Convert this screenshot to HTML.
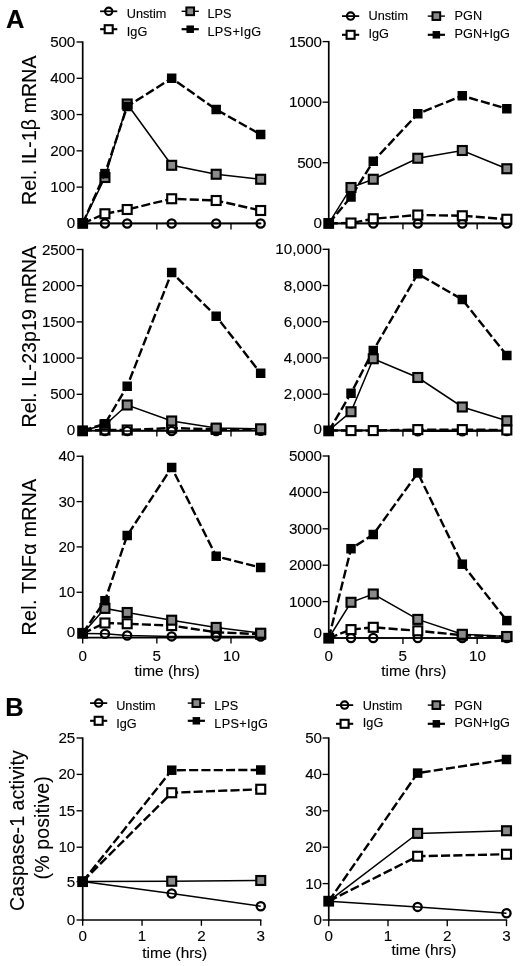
<!DOCTYPE html>
<html lang="en">
<head>
<meta charset="utf-8">
<title>Figure</title>
<style>
html{margin:0;padding:0;background:#fff;}
body{margin:0;padding:0;background:transparent;}
body{width:520px;height:966px;overflow:hidden;}
svg{display:block;will-change:transform;filter:grayscale(1);}
</style>
</head>
<body>
<svg width="520" height="966" viewBox="0 0 520 966" font-family='"Liberation Sans", Arial, Helvetica, sans-serif' fill="#000">
<style>text{stroke:#000;stroke-width:0.12px;}</style>
<rect width="520" height="966" fill="#fff"/>
<text x="6" y="27.9" font-size="25.5" text-anchor="start" font-weight="bold">A</text>
<text x="5.3" y="716" font-size="25.5" text-anchor="start" font-weight="bold">B</text>
<line x1="100.1" y1="11.3" x2="117.3" y2="11.3" stroke="#000" stroke-width="1.75"/><circle cx="108.7" cy="11.3" r="3.7" fill="none" stroke="#000" stroke-width="2.1"/><text x="126.8" y="17.8" font-size="12.7" text-anchor="start">Unstim</text><line x1="100.1" y1="29.2" x2="117.3" y2="29.2" stroke="#000" stroke-width="2.1"/><rect x="104.7" y="25.2" width="8" height="8" fill="#fff" stroke="#000" stroke-width="2.1"/><text x="126.8" y="35.8" font-size="12.7" text-anchor="start">IgG</text><line x1="181.6" y1="11.3" x2="198.8" y2="11.3" stroke="#000" stroke-width="1.4"/><rect x="186.35" y="7.45" width="7.7" height="7.7" fill="#8a8a8a" stroke="#000" stroke-width="2"/><text x="207.5" y="17.8" font-size="12.7" text-anchor="start">LPS</text><line x1="181.6" y1="29.2" x2="198.8" y2="29.2" stroke="#000" stroke-width="2.2"/><rect x="186.45" y="25.45" width="7.5" height="7.5" fill="#000"/><text x="207.5" y="35.8" font-size="12.7" text-anchor="start" letter-spacing="0.3">LPS+IgG</text>
<line x1="342" y1="16.1" x2="359.2" y2="16.1" stroke="#000" stroke-width="1.75"/><circle cx="350.6" cy="16.1" r="3.7" fill="none" stroke="#000" stroke-width="2.1"/><text x="368.5" y="20.1" font-size="12.7" text-anchor="start">Unstim</text><line x1="342" y1="34.8" x2="359.2" y2="34.8" stroke="#000" stroke-width="2.1"/><rect x="346.6" y="30.8" width="8" height="8" fill="#fff" stroke="#000" stroke-width="2.1"/><text x="368.5" y="37.8" font-size="12.7" text-anchor="start">IgG</text><line x1="427.75" y1="16.1" x2="444.95" y2="16.1" stroke="#000" stroke-width="1.4"/><rect x="432.5" y="12.25" width="7.7" height="7.7" fill="#8a8a8a" stroke="#000" stroke-width="2"/><text x="454.6" y="20.1" font-size="12.7" text-anchor="start">PGN</text><line x1="427.75" y1="34.8" x2="444.95" y2="34.8" stroke="#000" stroke-width="2.2"/><rect x="432.6" y="31.05" width="7.5" height="7.5" fill="#000"/><text x="454.6" y="37.8" font-size="12.7" text-anchor="start">PGN+IgG</text>
<line x1="90.05" y1="703.1" x2="107.25" y2="703.1" stroke="#000" stroke-width="1.75"/><circle cx="98.65" cy="703.1" r="3.7" fill="none" stroke="#000" stroke-width="2.1"/><text x="116.2" y="709.6" font-size="12.7" text-anchor="start">Unstim</text><line x1="90.05" y1="720.8" x2="107.25" y2="720.8" stroke="#000" stroke-width="2.1"/><rect x="94.65" y="716.8" width="8" height="8" fill="#fff" stroke="#000" stroke-width="2.1"/><text x="116.2" y="727.6" font-size="12.7" text-anchor="start">IgG</text><line x1="187.75" y1="703.1" x2="204.95" y2="703.1" stroke="#000" stroke-width="1.4"/><rect x="192.5" y="699.25" width="7.7" height="7.7" fill="#8a8a8a" stroke="#000" stroke-width="2"/><text x="214.3" y="709.6" font-size="12.7" text-anchor="start">LPS</text><line x1="187.75" y1="720.8" x2="204.95" y2="720.8" stroke="#000" stroke-width="2.2"/><rect x="192.6" y="717.05" width="7.5" height="7.5" fill="#000"/><text x="214.3" y="727.6" font-size="12.7" text-anchor="start" letter-spacing="0.3">LPS+IgG</text>
<line x1="336" y1="705.1" x2="353.2" y2="705.1" stroke="#000" stroke-width="1.75"/><circle cx="344.6" cy="705.1" r="3.7" fill="none" stroke="#000" stroke-width="2.1"/><text x="362.8" y="709.8" font-size="12.7" text-anchor="start">Unstim</text><line x1="336" y1="723.8" x2="353.2" y2="723.8" stroke="#000" stroke-width="2.1"/><rect x="340.6" y="719.8" width="8" height="8" fill="#fff" stroke="#000" stroke-width="2.1"/><text x="362.8" y="727.4" font-size="12.7" text-anchor="start">IgG</text><line x1="427.75" y1="705.1" x2="444.95" y2="705.1" stroke="#000" stroke-width="1.4"/><rect x="432.5" y="701.25" width="7.7" height="7.7" fill="#8a8a8a" stroke="#000" stroke-width="2"/><text x="454.6" y="709.8" font-size="12.7" text-anchor="start">PGN</text><line x1="427.75" y1="723.8" x2="444.95" y2="723.8" stroke="#000" stroke-width="2.2"/><rect x="432.6" y="720.05" width="7.5" height="7.5" fill="#000"/><text x="454.6" y="727.4" font-size="12.7" text-anchor="start">PGN+IgG</text>
<text transform="translate(36 130.2) rotate(-90)" font-size="19.5" text-anchor="middle" textLength="149.4" lengthAdjust="spacing">Rel. IL-1β mRNA</text>
<text transform="translate(36 336.7) rotate(-90)" font-size="19.5" text-anchor="middle" textLength="181.6" lengthAdjust="spacing">Rel. IL-23p19 mRNA</text>
<text transform="translate(36 557.15) rotate(-90)" font-size="19.5" text-anchor="middle" textLength="156.7" lengthAdjust="spacing">Rel. TNFα mRNA</text>
<text transform="translate(23.6 830.6) rotate(-90)" font-size="19.5" text-anchor="middle" textLength="160.6" lengthAdjust="spacing">Caspase-1 activity</text>
<text transform="translate(48.6 827.8) rotate(-90)" font-size="19.5" text-anchor="middle" textLength="103.2" lengthAdjust="spacing">(% positive)</text>
<line x1="82.7" y1="41.33" x2="82.7" y2="224.25" stroke="#000" stroke-width="1.7"/><line x1="81.85" y1="223.4" x2="261.34" y2="223.4" stroke="#000" stroke-width="1.7"/><line x1="76.55" y1="42" x2="82.7" y2="42" stroke="#000" stroke-width="1.35"/><text x="74.85" y="47" font-size="15.2" text-anchor="end" letter-spacing="-0.25">500</text><line x1="76.55" y1="78.28" x2="82.7" y2="78.28" stroke="#000" stroke-width="1.35"/><text x="74.85" y="83.28" font-size="15.2" text-anchor="end" letter-spacing="-0.25">400</text><line x1="76.55" y1="114.56" x2="82.7" y2="114.56" stroke="#000" stroke-width="1.35"/><text x="74.85" y="119.56" font-size="15.2" text-anchor="end" letter-spacing="-0.25">300</text><line x1="76.55" y1="150.84" x2="82.7" y2="150.84" stroke="#000" stroke-width="1.35"/><text x="74.85" y="155.84" font-size="15.2" text-anchor="end" letter-spacing="-0.25">200</text><line x1="76.55" y1="187.12" x2="82.7" y2="187.12" stroke="#000" stroke-width="1.35"/><text x="74.85" y="192.12" font-size="15.2" text-anchor="end" letter-spacing="-0.25">100</text><text x="74.85" y="228.4" font-size="15.2" text-anchor="end" letter-spacing="-0.25">0</text><line x1="156.85" y1="223.4" x2="156.85" y2="229.4" stroke="#000" stroke-width="1.35"/><line x1="231" y1="223.4" x2="231" y2="229.4" stroke="#000" stroke-width="1.35"/><polyline points="82.7,223.4 104.95,213.75 127.19,209.5 171.68,198.75 216.17,200.5 260.66,210.5" fill="none" stroke="#000" stroke-width="2.4" stroke-dasharray="9.1 3.2"/><rect x="100.47" y="209.28" width="8.95" height="8.95" fill="#fff" stroke="#000" stroke-width="2.15"/><rect x="122.72" y="205.03" width="8.95" height="8.95" fill="#fff" stroke="#000" stroke-width="2.15"/><rect x="167.21" y="194.28" width="8.95" height="8.95" fill="#fff" stroke="#000" stroke-width="2.15"/><rect x="211.7" y="196.03" width="8.95" height="8.95" fill="#fff" stroke="#000" stroke-width="2.15"/><rect x="256.19" y="206.03" width="8.95" height="8.95" fill="#fff" stroke="#000" stroke-width="2.15"/><polyline points="82.7,223.5 104.95,223.5 127.19,223.5 171.68,223.5 216.17,223.5 260.66,223.5" fill="none" stroke="#000" stroke-width="1.5"/><circle cx="104.95" cy="223.5" r="4.1" fill="none" stroke="#000" stroke-width="2.3"/><circle cx="127.19" cy="223.5" r="4.1" fill="none" stroke="#000" stroke-width="2.3"/><circle cx="171.68" cy="223.5" r="4.1" fill="none" stroke="#000" stroke-width="2.3"/><circle cx="216.17" cy="223.5" r="4.1" fill="none" stroke="#000" stroke-width="2.3"/><circle cx="260.66" cy="223.5" r="4.1" fill="none" stroke="#000" stroke-width="2.3"/><polyline points="82.7,223.4 104.95,177.5 127.19,104 171.68,165.3 216.17,174.25 260.66,179.25" fill="none" stroke="#000" stroke-width="1.5"/><rect x="100.47" y="173.03" width="8.95" height="8.95" fill="#8a8a8a" stroke="#000" stroke-width="2.15"/><rect x="122.72" y="99.53" width="8.95" height="8.95" fill="#8a8a8a" stroke="#000" stroke-width="2.15"/><rect x="167.21" y="160.83" width="8.95" height="8.95" fill="#8a8a8a" stroke="#000" stroke-width="2.15"/><rect x="211.7" y="169.78" width="8.95" height="8.95" fill="#8a8a8a" stroke="#000" stroke-width="2.15"/><rect x="256.19" y="174.78" width="8.95" height="8.95" fill="#8a8a8a" stroke="#000" stroke-width="2.15"/><polyline points="82.7,223.4 104.95,173.6 127.19,106.5 171.68,78.25 216.17,109.5 260.66,134.5" fill="none" stroke="#000" stroke-width="2.4" stroke-dasharray="9.1 3.2"/><rect x="77.95" y="218.65" width="9.5" height="9.5" fill="#000"/><rect x="100.2" y="168.85" width="9.5" height="9.5" fill="#000"/><rect x="122.44" y="101.75" width="9.5" height="9.5" fill="#000"/><rect x="166.93" y="73.5" width="9.5" height="9.5" fill="#000"/><rect x="211.42" y="104.75" width="9.5" height="9.5" fill="#000"/><rect x="255.91" y="129.75" width="9.5" height="9.5" fill="#000"/><rect x="77.3" y="218" width="10.8" height="10.8" fill="#000"/>
<line x1="328.75" y1="40.93" x2="328.75" y2="224.15" stroke="#000" stroke-width="1.7"/><line x1="327.9" y1="223.3" x2="507.5" y2="223.3" stroke="#000" stroke-width="1.7"/><line x1="322.6" y1="41.6" x2="328.75" y2="41.6" stroke="#000" stroke-width="1.35"/><text x="321.75" y="46.6" font-size="15.2" text-anchor="end" letter-spacing="-0.25">1500</text><line x1="322.6" y1="102.17" x2="328.75" y2="102.17" stroke="#000" stroke-width="1.35"/><text x="321.75" y="107.17" font-size="15.2" text-anchor="end" letter-spacing="-0.25">1000</text><line x1="322.6" y1="162.73" x2="328.75" y2="162.73" stroke="#000" stroke-width="1.35"/><text x="321.75" y="167.73" font-size="15.2" text-anchor="end" letter-spacing="-0.25">500</text><text x="321.75" y="228.3" font-size="15.2" text-anchor="end" letter-spacing="-0.25">0</text><line x1="402.95" y1="223.3" x2="402.95" y2="229.3" stroke="#000" stroke-width="1.35"/><line x1="477.15" y1="223.3" x2="477.15" y2="229.3" stroke="#000" stroke-width="1.35"/><polyline points="328.75,223.6 351.01,223.6 373.27,223.6 417.79,223.6 462.31,223.6 506.83,223.6" fill="none" stroke="#000" stroke-width="1.5"/><circle cx="351.01" cy="223.6" r="4.1" fill="none" stroke="#000" stroke-width="2.3"/><circle cx="373.27" cy="223.6" r="4.1" fill="none" stroke="#000" stroke-width="2.3"/><circle cx="417.79" cy="223.6" r="4.1" fill="none" stroke="#000" stroke-width="2.3"/><circle cx="462.31" cy="223.6" r="4.1" fill="none" stroke="#000" stroke-width="2.3"/><circle cx="506.83" cy="223.6" r="4.1" fill="none" stroke="#000" stroke-width="2.3"/><polyline points="328.75,223.3 351.01,197 373.27,161.25 417.79,113.75 462.31,95.75 506.83,108.75" fill="none" stroke="#000" stroke-width="2.4" stroke-dasharray="9.1 3.2"/><rect x="324" y="218.55" width="9.5" height="9.5" fill="#000"/><rect x="346.26" y="192.25" width="9.5" height="9.5" fill="#000"/><rect x="368.52" y="156.5" width="9.5" height="9.5" fill="#000"/><rect x="413.04" y="109" width="9.5" height="9.5" fill="#000"/><rect x="457.56" y="91" width="9.5" height="9.5" fill="#000"/><rect x="502.08" y="104" width="9.5" height="9.5" fill="#000"/><polyline points="328.75,223.3 351.01,187.5 373.27,179.25 417.79,158.25 462.31,150.5 506.83,168.75" fill="none" stroke="#000" stroke-width="1.5"/><rect x="346.53" y="183.03" width="8.95" height="8.95" fill="#8a8a8a" stroke="#000" stroke-width="2.15"/><rect x="368.79" y="174.78" width="8.95" height="8.95" fill="#8a8a8a" stroke="#000" stroke-width="2.15"/><rect x="413.31" y="153.78" width="8.95" height="8.95" fill="#8a8a8a" stroke="#000" stroke-width="2.15"/><rect x="457.83" y="146.03" width="8.95" height="8.95" fill="#8a8a8a" stroke="#000" stroke-width="2.15"/><rect x="502.35" y="164.28" width="8.95" height="8.95" fill="#8a8a8a" stroke="#000" stroke-width="2.15"/><polyline points="328.75,223.3 351.01,223 373.27,218.75 417.79,215 462.31,215.75 506.83,219.25" fill="none" stroke="#000" stroke-width="2.4" stroke-dasharray="9.1 3.2"/><rect x="346.53" y="218.53" width="8.95" height="8.95" fill="#fff" stroke="#000" stroke-width="2.15"/><rect x="368.79" y="214.28" width="8.95" height="8.95" fill="#fff" stroke="#000" stroke-width="2.15"/><rect x="413.31" y="210.53" width="8.95" height="8.95" fill="#fff" stroke="#000" stroke-width="2.15"/><rect x="457.83" y="211.28" width="8.95" height="8.95" fill="#fff" stroke="#000" stroke-width="2.15"/><rect x="502.35" y="214.78" width="8.95" height="8.95" fill="#fff" stroke="#000" stroke-width="2.15"/><rect x="323.3" y="218.05" width="10.8" height="10.8" fill="#000"/>
<line x1="82.7" y1="248.82" x2="82.7" y2="431.35" stroke="#000" stroke-width="1.7"/><line x1="81.85" y1="430.5" x2="261.34" y2="430.5" stroke="#000" stroke-width="1.7"/><line x1="76.55" y1="249.5" x2="82.7" y2="249.5" stroke="#000" stroke-width="1.35"/><text x="74.85" y="254.5" font-size="15.2" text-anchor="end" letter-spacing="-0.25">2500</text><line x1="76.55" y1="285.7" x2="82.7" y2="285.7" stroke="#000" stroke-width="1.35"/><text x="74.85" y="290.7" font-size="15.2" text-anchor="end" letter-spacing="-0.25">2000</text><line x1="76.55" y1="321.9" x2="82.7" y2="321.9" stroke="#000" stroke-width="1.35"/><text x="74.85" y="326.9" font-size="15.2" text-anchor="end" letter-spacing="-0.25">1500</text><line x1="76.55" y1="358.1" x2="82.7" y2="358.1" stroke="#000" stroke-width="1.35"/><text x="74.85" y="363.1" font-size="15.2" text-anchor="end" letter-spacing="-0.25">1000</text><line x1="76.55" y1="394.3" x2="82.7" y2="394.3" stroke="#000" stroke-width="1.35"/><text x="74.85" y="399.3" font-size="15.2" text-anchor="end" letter-spacing="-0.25">500</text><text x="74.85" y="434.5" font-size="15.2" text-anchor="end" letter-spacing="-0.25">0</text><line x1="156.85" y1="430.5" x2="156.85" y2="436.5" stroke="#000" stroke-width="1.35"/><line x1="231" y1="430.5" x2="231" y2="436.5" stroke="#000" stroke-width="1.35"/><polyline points="82.7,430.5 104.95,430 127.19,430 171.68,428 216.17,429.4 260.66,429.8" fill="none" stroke="#000" stroke-width="2.4" stroke-dasharray="9.1 3.2"/><rect x="100.47" y="425.52" width="8.95" height="8.95" fill="#fff" stroke="#000" stroke-width="2.15"/><rect x="122.72" y="425.52" width="8.95" height="8.95" fill="#fff" stroke="#000" stroke-width="2.15"/><rect x="167.21" y="423.52" width="8.95" height="8.95" fill="#fff" stroke="#000" stroke-width="2.15"/><rect x="211.7" y="424.92" width="8.95" height="8.95" fill="#fff" stroke="#000" stroke-width="2.15"/><rect x="256.19" y="425.32" width="8.95" height="8.95" fill="#fff" stroke="#000" stroke-width="2.15"/><polyline points="82.7,430.5 104.95,431 127.19,431 171.68,431 216.17,431.1 260.66,430.8" fill="none" stroke="#000" stroke-width="1.5"/><circle cx="104.95" cy="431" r="4.1" fill="none" stroke="#000" stroke-width="2.3"/><circle cx="127.19" cy="431" r="4.1" fill="none" stroke="#000" stroke-width="2.3"/><circle cx="171.68" cy="431" r="4.1" fill="none" stroke="#000" stroke-width="2.3"/><circle cx="216.17" cy="431.1" r="4.1" fill="none" stroke="#000" stroke-width="2.3"/><circle cx="260.66" cy="430.8" r="4.1" fill="none" stroke="#000" stroke-width="2.3"/><polyline points="82.7,430.5 104.95,425 127.19,405 171.68,421 216.17,428.1 260.66,428.8" fill="none" stroke="#000" stroke-width="1.5"/><rect x="100.47" y="420.52" width="8.95" height="8.95" fill="#8a8a8a" stroke="#000" stroke-width="2.15"/><rect x="122.72" y="400.52" width="8.95" height="8.95" fill="#8a8a8a" stroke="#000" stroke-width="2.15"/><rect x="167.21" y="416.52" width="8.95" height="8.95" fill="#8a8a8a" stroke="#000" stroke-width="2.15"/><rect x="211.7" y="423.62" width="8.95" height="8.95" fill="#8a8a8a" stroke="#000" stroke-width="2.15"/><rect x="256.19" y="424.32" width="8.95" height="8.95" fill="#8a8a8a" stroke="#000" stroke-width="2.15"/><polyline points="82.7,430.5 104.95,423.75 127.19,386.25 171.68,272.5 216.17,316.25 260.66,373.25" fill="none" stroke="#000" stroke-width="2.4" stroke-dasharray="9.1 3.2"/><rect x="77.95" y="425.75" width="9.5" height="9.5" fill="#000"/><rect x="100.2" y="419" width="9.5" height="9.5" fill="#000"/><rect x="122.44" y="381.5" width="9.5" height="9.5" fill="#000"/><rect x="166.93" y="267.75" width="9.5" height="9.5" fill="#000"/><rect x="211.42" y="311.5" width="9.5" height="9.5" fill="#000"/><rect x="255.91" y="368.5" width="9.5" height="9.5" fill="#000"/><rect x="77.2" y="425.5" width="10.8" height="10.8" fill="#000"/>
<line x1="328.75" y1="248.62" x2="328.75" y2="431.25" stroke="#000" stroke-width="1.7"/><line x1="327.9" y1="430.4" x2="507.5" y2="430.4" stroke="#000" stroke-width="1.7"/><line x1="322.6" y1="249.3" x2="328.75" y2="249.3" stroke="#000" stroke-width="1.35"/><text x="322.08" y="254.3" font-size="15.2" text-anchor="end" letter-spacing="0.08">10,000</text><line x1="322.6" y1="285.52" x2="328.75" y2="285.52" stroke="#000" stroke-width="1.35"/><text x="322.08" y="290.52" font-size="15.2" text-anchor="end" letter-spacing="0.08">8,000</text><line x1="322.6" y1="321.74" x2="328.75" y2="321.74" stroke="#000" stroke-width="1.35"/><text x="322.08" y="326.74" font-size="15.2" text-anchor="end" letter-spacing="0.08">6,000</text><line x1="322.6" y1="357.96" x2="328.75" y2="357.96" stroke="#000" stroke-width="1.35"/><text x="322.08" y="362.96" font-size="15.2" text-anchor="end" letter-spacing="0.08">4,000</text><line x1="322.6" y1="394.18" x2="328.75" y2="394.18" stroke="#000" stroke-width="1.35"/><text x="322.08" y="399.18" font-size="15.2" text-anchor="end" letter-spacing="0.08">2,000</text><text x="321.75" y="433.9" font-size="15.2" text-anchor="end" letter-spacing="-0.25">0</text><line x1="402.95" y1="430.4" x2="402.95" y2="436.4" stroke="#000" stroke-width="1.35"/><line x1="477.15" y1="430.4" x2="477.15" y2="436.4" stroke="#000" stroke-width="1.35"/><polyline points="328.75,430.6 351.01,430.6 373.27,430.6 417.79,431.2 462.31,431.2 506.83,431" fill="none" stroke="#000" stroke-width="1.5"/><circle cx="351.01" cy="430.6" r="4.1" fill="none" stroke="#000" stroke-width="2.3"/><circle cx="373.27" cy="430.6" r="4.1" fill="none" stroke="#000" stroke-width="2.3"/><circle cx="417.79" cy="431.2" r="4.1" fill="none" stroke="#000" stroke-width="2.3"/><circle cx="462.31" cy="431.2" r="4.1" fill="none" stroke="#000" stroke-width="2.3"/><circle cx="506.83" cy="431" r="4.1" fill="none" stroke="#000" stroke-width="2.3"/><polyline points="328.75,431 351.01,393.25 373.27,350.5 417.79,273.75 462.31,299.5 506.83,355.5" fill="none" stroke="#000" stroke-width="2.4" stroke-dasharray="9.1 3.2"/><rect x="324" y="426.25" width="9.5" height="9.5" fill="#000"/><rect x="346.26" y="388.5" width="9.5" height="9.5" fill="#000"/><rect x="368.52" y="345.75" width="9.5" height="9.5" fill="#000"/><rect x="413.04" y="269" width="9.5" height="9.5" fill="#000"/><rect x="457.56" y="294.75" width="9.5" height="9.5" fill="#000"/><rect x="502.08" y="350.75" width="9.5" height="9.5" fill="#000"/><polyline points="328.75,430.4 351.01,411.75 373.27,358.75 417.79,377.5 462.31,407 506.83,420.75" fill="none" stroke="#000" stroke-width="1.5"/><rect x="346.53" y="407.27" width="8.95" height="8.95" fill="#8a8a8a" stroke="#000" stroke-width="2.15"/><rect x="368.79" y="354.27" width="8.95" height="8.95" fill="#8a8a8a" stroke="#000" stroke-width="2.15"/><rect x="413.31" y="373.02" width="8.95" height="8.95" fill="#8a8a8a" stroke="#000" stroke-width="2.15"/><rect x="457.83" y="402.52" width="8.95" height="8.95" fill="#8a8a8a" stroke="#000" stroke-width="2.15"/><rect x="502.35" y="416.27" width="8.95" height="8.95" fill="#8a8a8a" stroke="#000" stroke-width="2.15"/><polyline points="328.75,430.5 351.01,430.6 373.27,430.6 417.79,429.6 462.31,429.6 506.83,430" fill="none" stroke="#000" stroke-width="2.4" stroke-dasharray="9.1 3.2"/><rect x="346.53" y="426.12" width="8.95" height="8.95" fill="#fff" stroke="#000" stroke-width="2.15"/><rect x="368.79" y="426.12" width="8.95" height="8.95" fill="#fff" stroke="#000" stroke-width="2.15"/><rect x="413.31" y="425.12" width="8.95" height="8.95" fill="#fff" stroke="#000" stroke-width="2.15"/><rect x="457.83" y="425.12" width="8.95" height="8.95" fill="#fff" stroke="#000" stroke-width="2.15"/><rect x="502.35" y="425.52" width="8.95" height="8.95" fill="#fff" stroke="#000" stroke-width="2.15"/><rect x="323.25" y="425.5" width="10.8" height="10.8" fill="#000"/>
<line x1="82.7" y1="455.57" x2="82.7" y2="638.45" stroke="#000" stroke-width="1.7"/><line x1="81.85" y1="637.6" x2="261.34" y2="637.6" stroke="#000" stroke-width="1.7"/><line x1="76.55" y1="456.25" x2="82.7" y2="456.25" stroke="#000" stroke-width="1.35"/><text x="74.85" y="461.25" font-size="15.2" text-anchor="end" letter-spacing="-0.25">40</text><line x1="76.55" y1="501.59" x2="82.7" y2="501.59" stroke="#000" stroke-width="1.35"/><text x="74.85" y="506.59" font-size="15.2" text-anchor="end" letter-spacing="-0.25">30</text><line x1="76.55" y1="546.92" x2="82.7" y2="546.92" stroke="#000" stroke-width="1.35"/><text x="74.85" y="551.92" font-size="15.2" text-anchor="end" letter-spacing="-0.25">20</text><line x1="76.55" y1="592.26" x2="82.7" y2="592.26" stroke="#000" stroke-width="1.35"/><text x="74.85" y="597.26" font-size="15.2" text-anchor="end" letter-spacing="-0.25">10</text><text x="74.85" y="637.2" font-size="15.2" text-anchor="end" letter-spacing="-0.25">0</text><line x1="82.7" y1="637.6" x2="82.7" y2="643.6" stroke="#000" stroke-width="1.35"/><line x1="156.85" y1="637.6" x2="156.85" y2="643.6" stroke="#000" stroke-width="1.35"/><line x1="231" y1="637.6" x2="231" y2="643.6" stroke="#000" stroke-width="1.35"/><text x="82.7" y="661.2" font-size="15.2" text-anchor="middle">0</text><text x="156.65" y="661.2" font-size="15.2" text-anchor="middle">5</text><text x="231.4" y="661.2" font-size="15.2" text-anchor="middle">10</text><polyline points="82.7,633.5 104.95,623 127.19,623.75 171.68,625.6 216.17,632.3 260.66,634.2" fill="none" stroke="#000" stroke-width="2.4" stroke-dasharray="9.1 3.2"/><rect x="100.47" y="618.52" width="8.95" height="8.95" fill="#fff" stroke="#000" stroke-width="2.15"/><rect x="122.72" y="619.27" width="8.95" height="8.95" fill="#fff" stroke="#000" stroke-width="2.15"/><rect x="167.21" y="621.12" width="8.95" height="8.95" fill="#fff" stroke="#000" stroke-width="2.15"/><rect x="211.7" y="627.82" width="8.95" height="8.95" fill="#fff" stroke="#000" stroke-width="2.15"/><rect x="256.19" y="629.73" width="8.95" height="8.95" fill="#fff" stroke="#000" stroke-width="2.15"/><polyline points="82.7,633.5 104.95,633.75 127.19,635.5 171.68,636.4 216.17,636.6 260.66,636.6" fill="none" stroke="#000" stroke-width="1.5"/><circle cx="104.95" cy="633.75" r="4.1" fill="none" stroke="#000" stroke-width="2.3"/><circle cx="127.19" cy="635.5" r="4.1" fill="none" stroke="#000" stroke-width="2.3"/><circle cx="171.68" cy="636.4" r="4.1" fill="none" stroke="#000" stroke-width="2.3"/><circle cx="216.17" cy="636.6" r="4.1" fill="none" stroke="#000" stroke-width="2.3"/><circle cx="260.66" cy="636.6" r="4.1" fill="none" stroke="#000" stroke-width="2.3"/><polyline points="82.7,633.5 104.95,608.4 127.19,612.5 171.68,620.2 216.17,627.4 260.66,633.2" fill="none" stroke="#000" stroke-width="1.5"/><rect x="100.47" y="603.92" width="8.95" height="8.95" fill="#8a8a8a" stroke="#000" stroke-width="2.15"/><rect x="122.72" y="608.02" width="8.95" height="8.95" fill="#8a8a8a" stroke="#000" stroke-width="2.15"/><rect x="167.21" y="615.73" width="8.95" height="8.95" fill="#8a8a8a" stroke="#000" stroke-width="2.15"/><rect x="211.7" y="622.92" width="8.95" height="8.95" fill="#8a8a8a" stroke="#000" stroke-width="2.15"/><rect x="256.19" y="628.73" width="8.95" height="8.95" fill="#8a8a8a" stroke="#000" stroke-width="2.15"/><polyline points="82.7,633.3 104.95,600.7 127.19,535.5 171.68,467.5 216.17,556.25 260.66,567.5" fill="none" stroke="#000" stroke-width="2.4" stroke-dasharray="9.1 3.2"/><rect x="77.95" y="628.55" width="9.5" height="9.5" fill="#000"/><rect x="100.2" y="595.95" width="9.5" height="9.5" fill="#000"/><rect x="122.44" y="530.75" width="9.5" height="9.5" fill="#000"/><rect x="166.93" y="462.75" width="9.5" height="9.5" fill="#000"/><rect x="211.42" y="551.5" width="9.5" height="9.5" fill="#000"/><rect x="255.91" y="562.75" width="9.5" height="9.5" fill="#000"/><rect x="77.2" y="627.9" width="10.8" height="10.8" fill="#000"/>
<text x="167.1" y="675.6" font-size="15.4" text-anchor="middle">time (hrs)</text>
<line x1="328.75" y1="455.32" x2="328.75" y2="638.85" stroke="#000" stroke-width="1.7"/><line x1="327.9" y1="638" x2="507.5" y2="638" stroke="#000" stroke-width="1.7"/><line x1="322.6" y1="456" x2="328.75" y2="456" stroke="#000" stroke-width="1.35"/><text x="321.75" y="461" font-size="15.2" text-anchor="end" letter-spacing="-0.25">5000</text><line x1="322.6" y1="492.4" x2="328.75" y2="492.4" stroke="#000" stroke-width="1.35"/><text x="321.75" y="497.4" font-size="15.2" text-anchor="end" letter-spacing="-0.25">4000</text><line x1="322.6" y1="528.8" x2="328.75" y2="528.8" stroke="#000" stroke-width="1.35"/><text x="321.75" y="533.8" font-size="15.2" text-anchor="end" letter-spacing="-0.25">3000</text><line x1="322.6" y1="565.2" x2="328.75" y2="565.2" stroke="#000" stroke-width="1.35"/><text x="321.75" y="570.2" font-size="15.2" text-anchor="end" letter-spacing="-0.25">2000</text><line x1="322.6" y1="601.6" x2="328.75" y2="601.6" stroke="#000" stroke-width="1.35"/><text x="321.75" y="606.6" font-size="15.2" text-anchor="end" letter-spacing="-0.25">1000</text><text x="321.75" y="638.4" font-size="15.2" text-anchor="end" letter-spacing="-0.25">0</text><line x1="402.95" y1="638" x2="402.95" y2="644" stroke="#000" stroke-width="1.35"/><line x1="477.15" y1="638" x2="477.15" y2="644" stroke="#000" stroke-width="1.35"/><text x="328.75" y="661.2" font-size="15.2" text-anchor="middle">0</text><text x="402.75" y="661.2" font-size="15.2" text-anchor="middle">5</text><text x="477.55" y="661.2" font-size="15.2" text-anchor="middle">10</text><polyline points="328.75,638 351.01,638 373.27,638 417.79,638 462.31,638 506.83,638" fill="none" stroke="#000" stroke-width="1.5"/><circle cx="351.01" cy="638" r="4.1" fill="none" stroke="#000" stroke-width="2.3"/><circle cx="373.27" cy="638" r="4.1" fill="none" stroke="#000" stroke-width="2.3"/><circle cx="417.79" cy="638" r="4.1" fill="none" stroke="#000" stroke-width="2.3"/><circle cx="462.31" cy="638" r="4.1" fill="none" stroke="#000" stroke-width="2.3"/><circle cx="506.83" cy="638" r="4.1" fill="none" stroke="#000" stroke-width="2.3"/><polyline points="328.75,638 351.01,629.6 373.27,627.3 417.79,630.8 462.31,635.2 506.83,636.6" fill="none" stroke="#000" stroke-width="2.4" stroke-dasharray="9.1 3.2"/><rect x="346.53" y="625.12" width="8.95" height="8.95" fill="#fff" stroke="#000" stroke-width="2.15"/><rect x="368.79" y="622.82" width="8.95" height="8.95" fill="#fff" stroke="#000" stroke-width="2.15"/><rect x="413.31" y="626.32" width="8.95" height="8.95" fill="#fff" stroke="#000" stroke-width="2.15"/><rect x="457.83" y="630.73" width="8.95" height="8.95" fill="#fff" stroke="#000" stroke-width="2.15"/><rect x="502.35" y="632.12" width="8.95" height="8.95" fill="#fff" stroke="#000" stroke-width="2.15"/><polyline points="328.75,638 351.01,602.3 373.27,594 417.79,619.4 462.31,634.3 506.83,636.5" fill="none" stroke="#000" stroke-width="1.5"/><rect x="346.53" y="597.82" width="8.95" height="8.95" fill="#8a8a8a" stroke="#000" stroke-width="2.15"/><rect x="368.79" y="589.52" width="8.95" height="8.95" fill="#8a8a8a" stroke="#000" stroke-width="2.15"/><rect x="413.31" y="614.92" width="8.95" height="8.95" fill="#8a8a8a" stroke="#000" stroke-width="2.15"/><rect x="457.83" y="629.82" width="8.95" height="8.95" fill="#8a8a8a" stroke="#000" stroke-width="2.15"/><rect x="502.35" y="632.02" width="8.95" height="8.95" fill="#8a8a8a" stroke="#000" stroke-width="2.15"/><polyline points="328.75,638.2 351.01,548.7 373.27,534.5 417.79,472.9 462.31,564.2 506.83,620.6" fill="none" stroke="#000" stroke-width="2.4" stroke-dasharray="9.1 3.2"/><rect x="324" y="633.45" width="9.5" height="9.5" fill="#000"/><rect x="346.26" y="543.95" width="9.5" height="9.5" fill="#000"/><rect x="368.52" y="529.75" width="9.5" height="9.5" fill="#000"/><rect x="413.04" y="468.15" width="9.5" height="9.5" fill="#000"/><rect x="457.56" y="559.45" width="9.5" height="9.5" fill="#000"/><rect x="502.08" y="615.85" width="9.5" height="9.5" fill="#000"/><rect x="323.3" y="632.8" width="10.8" height="10.8" fill="#000"/>
<text x="413.8" y="675.5" font-size="15.4" text-anchor="middle">time (hrs)</text>
<line x1="82.7" y1="737.33" x2="82.7" y2="920.85" stroke="#000" stroke-width="1.7"/><line x1="81.85" y1="920" x2="261.43" y2="920" stroke="#000" stroke-width="1.7"/><line x1="76.55" y1="738" x2="82.7" y2="738" stroke="#000" stroke-width="1.35"/><text x="74.85" y="743" font-size="15.2" text-anchor="end" letter-spacing="-0.25">25</text><line x1="76.55" y1="774.4" x2="82.7" y2="774.4" stroke="#000" stroke-width="1.35"/><text x="74.85" y="779.4" font-size="15.2" text-anchor="end" letter-spacing="-0.25">20</text><line x1="76.55" y1="810.8" x2="82.7" y2="810.8" stroke="#000" stroke-width="1.35"/><text x="74.85" y="815.8" font-size="15.2" text-anchor="end" letter-spacing="-0.25">15</text><line x1="76.55" y1="847.2" x2="82.7" y2="847.2" stroke="#000" stroke-width="1.35"/><text x="74.85" y="852.2" font-size="15.2" text-anchor="end" letter-spacing="-0.25">10</text><line x1="76.55" y1="881.7" x2="82.7" y2="881.7" stroke="#000" stroke-width="1.35"/><text x="74.85" y="886.5" font-size="15.2" text-anchor="end" letter-spacing="-0.25">5</text><line x1="76.55" y1="920" x2="82.7" y2="920" stroke="#000" stroke-width="1.35"/><text x="74.85" y="925" font-size="15.2" text-anchor="end" letter-spacing="-0.25">0</text><line x1="82.7" y1="920" x2="82.7" y2="925.8" stroke="#000" stroke-width="1.35"/><line x1="142.05" y1="920" x2="142.05" y2="925.8" stroke="#000" stroke-width="1.35"/><line x1="201.4" y1="920" x2="201.4" y2="925.8" stroke="#000" stroke-width="1.35"/><line x1="260.75" y1="920" x2="260.75" y2="925.8" stroke="#000" stroke-width="1.35"/><text x="82.7" y="940.9" font-size="15.2" text-anchor="middle">0</text><text x="142.05" y="940.9" font-size="15.2" text-anchor="middle">1</text><text x="201.4" y="940.9" font-size="15.2" text-anchor="middle">2</text><text x="260.75" y="940.9" font-size="15.2" text-anchor="middle">3</text><polyline points="82.7,881.5 171.73,893.5 260.75,906.25" fill="none" stroke="#000" stroke-width="1.5"/><circle cx="171.73" cy="893.5" r="4.1" fill="none" stroke="#000" stroke-width="2.3"/><circle cx="260.75" cy="906.25" r="4.1" fill="none" stroke="#000" stroke-width="2.3"/><polyline points="82.7,881.5 171.73,792.75 260.75,789.25" fill="none" stroke="#000" stroke-width="2.4" stroke-dasharray="9.1 3.2"/><rect x="167.25" y="788.27" width="8.95" height="8.95" fill="#fff" stroke="#000" stroke-width="2.15"/><rect x="256.27" y="784.77" width="8.95" height="8.95" fill="#fff" stroke="#000" stroke-width="2.15"/><polyline points="82.7,881.5 171.73,881.25 260.75,880.5" fill="none" stroke="#000" stroke-width="1.5"/><rect x="167.25" y="876.77" width="8.95" height="8.95" fill="#8a8a8a" stroke="#000" stroke-width="2.15"/><rect x="256.27" y="876.02" width="8.95" height="8.95" fill="#8a8a8a" stroke="#000" stroke-width="2.15"/><polyline points="82.7,881.5 171.73,770.2 260.75,770" fill="none" stroke="#000" stroke-width="2.4" stroke-dasharray="9.1 3.2"/><rect x="77.95" y="876.75" width="9.5" height="9.5" fill="#000"/><rect x="166.98" y="765.45" width="9.5" height="9.5" fill="#000"/><rect x="256" y="765.25" width="9.5" height="9.5" fill="#000"/><rect x="77.2" y="876.25" width="10.8" height="10.8" fill="#000"/>
<text x="174.7" y="957.7" font-size="15.4" text-anchor="middle">time (hrs)</text>
<line x1="328.75" y1="737.33" x2="328.75" y2="920.85" stroke="#000" stroke-width="1.7"/><line x1="327.9" y1="920" x2="507.18" y2="920" stroke="#000" stroke-width="1.7"/><line x1="322.6" y1="738" x2="328.75" y2="738" stroke="#000" stroke-width="1.35"/><text x="321.75" y="743" font-size="15.2" text-anchor="end" letter-spacing="-0.25">50</text><line x1="322.6" y1="774.4" x2="328.75" y2="774.4" stroke="#000" stroke-width="1.35"/><text x="321.75" y="779.4" font-size="15.2" text-anchor="end" letter-spacing="-0.25">40</text><line x1="322.6" y1="810.8" x2="328.75" y2="810.8" stroke="#000" stroke-width="1.35"/><text x="321.75" y="815.8" font-size="15.2" text-anchor="end" letter-spacing="-0.25">30</text><line x1="322.6" y1="847.2" x2="328.75" y2="847.2" stroke="#000" stroke-width="1.35"/><text x="321.75" y="852.2" font-size="15.2" text-anchor="end" letter-spacing="-0.25">20</text><line x1="322.6" y1="883.6" x2="328.75" y2="883.6" stroke="#000" stroke-width="1.35"/><text x="321.75" y="888.6" font-size="15.2" text-anchor="end" letter-spacing="-0.25">10</text><line x1="322.6" y1="920" x2="328.75" y2="920" stroke="#000" stroke-width="1.35"/><text x="321.75" y="925" font-size="15.2" text-anchor="end" letter-spacing="-0.25">0</text><line x1="328.75" y1="920" x2="328.75" y2="926.2" stroke="#000" stroke-width="1.35"/><line x1="388" y1="920" x2="388" y2="926.2" stroke="#000" stroke-width="1.35"/><line x1="447.25" y1="920" x2="447.25" y2="926.2" stroke="#000" stroke-width="1.35"/><line x1="506.5" y1="920" x2="506.5" y2="926.2" stroke="#000" stroke-width="1.35"/><text x="328.75" y="940.6" font-size="15.2" text-anchor="middle">0</text><text x="388" y="940.6" font-size="15.2" text-anchor="middle">1</text><text x="447.25" y="940.6" font-size="15.2" text-anchor="middle">2</text><text x="506.5" y="940.6" font-size="15.2" text-anchor="middle">3</text><polyline points="328.75,901.2 417.62,906.9 506.5,913.25" fill="none" stroke="#000" stroke-width="1.5"/><circle cx="417.62" cy="906.9" r="4.1" fill="none" stroke="#000" stroke-width="2.3"/><circle cx="506.5" cy="913.25" r="4.1" fill="none" stroke="#000" stroke-width="2.3"/><polyline points="328.75,901.2 417.62,856.25 506.5,854.25" fill="none" stroke="#000" stroke-width="2.4" stroke-dasharray="9.1 3.2"/><rect x="413.15" y="851.77" width="8.95" height="8.95" fill="#fff" stroke="#000" stroke-width="2.15"/><rect x="502.02" y="849.77" width="8.95" height="8.95" fill="#fff" stroke="#000" stroke-width="2.15"/><polyline points="328.75,901.2 417.62,833.4 506.5,830.75" fill="none" stroke="#000" stroke-width="1.5"/><rect x="413.15" y="828.92" width="8.95" height="8.95" fill="#8a8a8a" stroke="#000" stroke-width="2.15"/><rect x="502.02" y="826.27" width="8.95" height="8.95" fill="#8a8a8a" stroke="#000" stroke-width="2.15"/><polyline points="328.75,901.2 417.62,773.1 506.5,759.5" fill="none" stroke="#000" stroke-width="2.4" stroke-dasharray="9.1 3.2"/><rect x="324" y="896.45" width="9.5" height="9.5" fill="#000"/><rect x="412.88" y="768.35" width="9.5" height="9.5" fill="#000"/><rect x="501.75" y="754.75" width="9.5" height="9.5" fill="#000"/><rect x="323.3" y="895.8" width="10.8" height="10.8" fill="#000"/>
<text x="424" y="955" font-size="15.4" text-anchor="middle">time (hrs)</text>
</svg>
</body>
</html>
